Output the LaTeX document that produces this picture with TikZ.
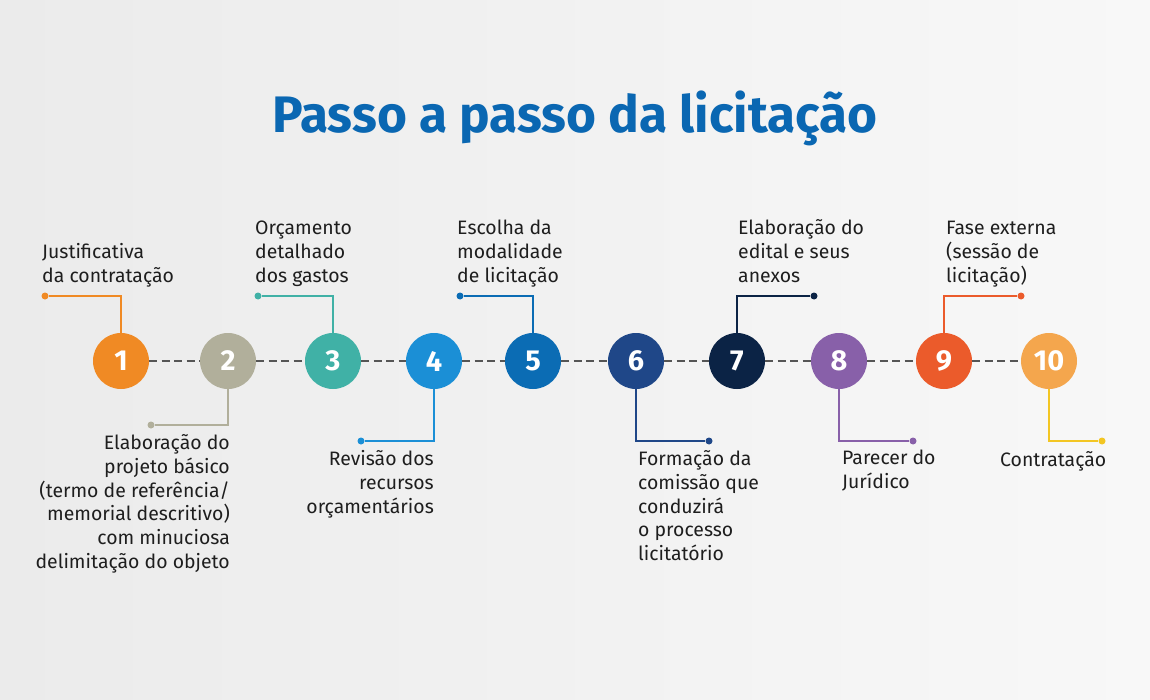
\documentclass[tikz,border=0pt]{standalone}
\usepackage{fontspec}
\setmainfont{Fira Sans}
\usetikzlibrary{positioning}
\definecolor{fundoesq}{HTML}{EBEBEB}
\definecolor{fundodir}{HTML}{F8F8F8}
\definecolor{tituloazul}{HTML}{0A67B2}
\definecolor{texto}{HTML}{1E1E1E}
\definecolor{tracos}{HTML}{555555}
\definecolor{passoA}{HTML}{F08A24}
\definecolor{passoB}{HTML}{B1AF9B}
\definecolor{passoC}{HTML}{40B1A6}
\definecolor{passoD}{HTML}{1B8FD6}
\definecolor{passoE}{HTML}{0B6CB4}
\definecolor{passoF}{HTML}{1F4788}
\definecolor{passoG}{HTML}{0B2345}
\definecolor{passoH}{HTML}{8860A9}
\definecolor{passoI}{HTML}{EB5B2B}
\definecolor{passoJ}{HTML}{F4A64D}
\definecolor{amarelo}{HTML}{F3C623}

\begin{document}
\begin{tikzpicture}[
        x=1bp, y=-1bp,
        passo/.style={circle, fill=#1, minimum size=56bp, inner sep=0pt,
                      text=white, font=\bfseries\fontsize{29}{29}\selectfont},
        ligacao/.style={line width=1.5bp, draw=#1},
        ponto/.style={circle, fill=#1, minimum size=7bp, inner sep=0pt},
        rotulo/.style={inner sep=0pt, text=texto, align=left,
                       font=\fontsize{19.5}{24}\selectfont,
                       execute at begin node=\strut, execute at end node=\strut},
        tracejado/.style={draw=tracos, line width=2bp, dash pattern=on 8bp off 4.5bp}
      ]
        \useasboundingbox (0,0) rectangle (1150,700);
        \fill[left color=fundoesq, right color=fundodir] (0,0) rectangle (1150,700);

        \node[font=\bfseries\fontsize{51.5}{52}\selectfont, text=tituloazul] (titulo) at (575,118)
              {Passo a passo da licitação};

        % etapas
        \foreach \n/\x/\cor in {1/121/passoA, 2/228/passoB, 3/333/passoC, 4/434/passoD,
                                5/533/passoE, 6/636/passoF, 7/737/passoG, 8/839/passoH,
                                9/944/passoI, 10/1049/passoJ}
          \node[passo=\cor] (c\n) at (\x,361) {\n};

        \foreach \n [evaluate=\n as \m using int(\n+1)] in {1,...,9}
          \draw[tracejado] (c\n.east) -- (c\m.west);

        % ligacoes de cima
        \node[ponto=passoA] (d1) at (45,296) {};
        \node[ponto=passoC] (d3) at (258,296) {};
        \node[ponto=passoE] (d5) at (460,296) {};
        \node[ponto=passoG] (d7) at (814,296) {};
        \node[ponto=passoI] (d9) at (1021,296) {};
        \draw[ligacao=passoA] (c1.north) |- (d1);
        \draw[ligacao=passoC] (c3.north) |- (d3);
        \draw[ligacao=passoE] (c5.north) |- (d5);
        \draw[ligacao=passoG] (c7.north) |- (d7);
        \draw[ligacao=passoI] (c9.north) |- (d9);

        % ligacoes de baixo
        \node[ponto=passoB] (d2) at (151,425) {};
        \node[ponto=passoD] (d4) at (361,441) {};
        \node[ponto=passoF] (d6) at (709,441) {};
        \node[ponto=passoH] (d8) at (913,441) {};
        \node[ponto=amarelo] (d10) at (1102,441) {};
        \draw[ligacao=passoB] (c2.south) |- (d2);
        \draw[ligacao=passoD] (c4.south) |- (d4);
        \draw[ligacao=passoF] (c6.south) |- (d6);
        \draw[ligacao=passoH] (c8.south) |- (d8);
        \draw[ligacao=amarelo] (c10.south) |- (d10);

        % textos
        \node[rotulo, anchor=south west] (t1) at (42,290) {Justificativa\\da contratação};
        \node[rotulo, anchor=south west] (t3) at (255,290) {Orçamento\\detalhado\\dos gastos};
        \node[rotulo, anchor=south west] (t5) at (457,290) {Escolha da\\modalidade\\de licitação};
        \node[rotulo, anchor=south west] (t7) at (738,290) {Elaboração do\\edital e seus\\anexos};
        \node[rotulo, anchor=south west] (t9) at (946,290) {Fase externa\\(sessão de\\licitação)};

        \node[rotulo, align=right, anchor=north east] (t2) at (230,434)
              {Elaboração do\\projeto básico\\(termo de referência/\\memorial descritivo)\\com minuciosa\\delimitação do objeto};
        \node[rotulo, align=right, anchor=north east] (t4) at (434,450)
              {Revisão dos\\recursos\\orçamentários};
        \node[rotulo, anchor=north west] (t6) at (638,450)
              {Formação da\\comissão que\\conduzirá\\o processo\\licitatório};
        \node[rotulo, anchor=north west] (t8) at (842,450) {Parecer do\\Jurídico};
        \node[rotulo, anchor=north west] (t10) at (1000,450) {Contratação};
      \end{tikzpicture}
\end{document}
